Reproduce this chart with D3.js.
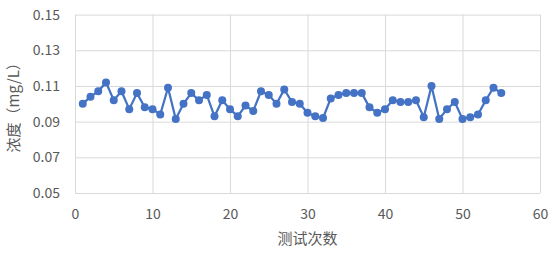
<!DOCTYPE html>
<html>
<head>
<meta charset="UTF-8">
<title>浓度 chart</title>
<style>
  body { margin: 0; background: #fff; }
  .grid line { stroke: #d9d9d9; stroke-width: 1; }
  .grid path { display: none; }
  .axis path, .axis line { display: none; }
  .axis text { fill: #595959; font-size: 14px; font-family: "Noto Sans CJK SC", "Noto Sans", sans-serif; }
  .title { fill: #595959; font-size: 15px; font-family: "Noto Sans CJK SC", sans-serif; }
</style>
</head>
<body>
<script src="https://d3js.org/d3.v7.min.js"></script>
<script>
// test number (x) and concentration mg/L (y)
var testNo = d3.range(1, 56);
var conc = [
  0.100, 0.104, 0.107, 0.112, 0.102, 0.107, 0.097, 0.106, 0.098, 0.097,
  0.094, 0.109, 0.0915, 0.100, 0.106, 0.102, 0.105, 0.093, 0.102, 0.097,
  0.093, 0.099, 0.096, 0.107, 0.105, 0.100, 0.108, 0.101, 0.100, 0.095,
  0.093, 0.092, 0.103, 0.105, 0.106, 0.106, 0.106, 0.098, 0.095, 0.097,
  0.102, 0.101, 0.101, 0.102, 0.0925, 0.110, 0.0915, 0.097, 0.101, 0.0915,
  0.0925, 0.094, 0.102, 0.109, 0.106
];
var xTicks = [0, 10, 20, 30, 40, 50, 60];
var yTicks = [0.05, 0.07, 0.09, 0.11, 0.13, 0.15];

var W = 554, H = 253;
var margin = {top: 14.6, right: 14, bottom: 60, left: 75};
var width = 540 - margin.left;
var height = 193 - margin.top;

var svg = d3.select("body").append("svg")
  .attr("width", W).attr("height", H);

var g = svg.append("g")
  .attr("transform", "translate(" + margin.left + "," + margin.top + ")");

var x = d3.scaleLinear().domain([0, 60]).range([0, width]);
var y = d3.scaleLinear().domain([0.05, 0.15]).range([height, 0]);

// gridlines
g.append("g").attr("class", "grid")
  .call(d3.axisLeft(y).tickValues(yTicks).tickSize(-width).tickFormat(""));
g.append("g").attr("class", "grid")
  .attr("transform", "translate(0," + height + ")")
  .call(d3.axisBottom(x).tickValues(xTicks).tickSize(-height).tickFormat(""));

// axes labels
g.append("g").attr("class", "axis")
  .call(d3.axisLeft(y).tickValues(yTicks).tickSize(0).tickPadding(15).tickFormat(d3.format(".2f")));
g.append("g").attr("class", "axis")
  .attr("transform", "translate(0," + height + ")")
  .call(d3.axisBottom(x).tickValues(xTicks).tickSize(0).tickPadding(16));

// line + markers
var line = d3.line()
  .x(function(d, i) { return x(testNo[i]); })
  .y(function(d) { return y(d); });

g.append("path")
  .attr("d", line(conc))
  .attr("fill", "none")
  .attr("stroke", "#4472c4")
  .attr("stroke-width", 2.25);

g.selectAll("circle").data(conc).enter().append("circle")
  .attr("cx", function(d, i) { return x(testNo[i]); })
  .attr("cy", function(d) { return y(d); })
  .attr("r", 4)
  .attr("fill", "#4472c4");

// titles
svg.append("text").attr("class", "title")
  .attr("x", margin.left + width / 2).attr("y", 244)
  .attr("text-anchor", "middle")
  .text("测试次数");

svg.append("text").attr("class", "title")
  .attr("transform", "translate(19," + (margin.top + height / 2) + ") rotate(-90)")
  .attr("text-anchor", "middle")
  .text("浓度（mg/L）");
</script>
</body>
</html>
